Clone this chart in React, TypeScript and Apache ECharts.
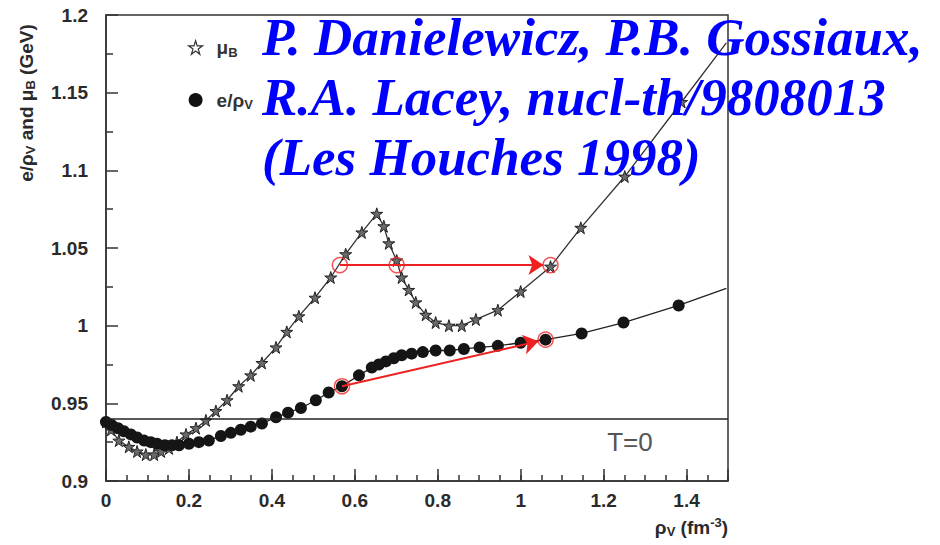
import React, { useEffect, useRef } from 'react';
import * as echarts from 'echarts';

// ---- data ----
const muRho = [0, 0.012, 0.031, 0.055, 0.075, 0.096, 0.116, 0.133, 0.152, 0.171, 0.193, 0.217, 0.241, 0.265, 0.292, 0.320, 0.349, 0.376, 0.410, 0.436, 0.465, 0.504, 0.542, 0.578, 0.617, 0.653, 0.670, 0.682, 0.701, 0.713, 0.730, 0.747, 0.771, 0.795, 0.827, 0.858, 0.892, 0.945, 1.000, 1.072, 1.145, 1.251, 1.388];
const muVal = [0.938, 0.933, 0.926, 0.922, 0.919, 0.917, 0.917, 0.919, 0.921, 0.925, 0.930, 0.934, 0.939, 0.945, 0.952, 0.961, 0.968, 0.976, 0.986, 0.996, 1.006, 1.018, 1.031, 1.046, 1.060, 1.072, 1.064, 1.053, 1.042, 1.031, 1.023, 1.015, 1.007, 1.002, 1.000, 1.000, 1.004, 1.010, 1.022, 1.038, 1.063, 1.096, 1.144];
const muCurveEnd = [1.496, 1.182];

const eRho = [0, 0.014, 0.029, 0.043, 0.060, 0.075, 0.092, 0.108, 0.123, 0.142, 0.159, 0.176, 0.200, 0.224, 0.248, 0.277, 0.301, 0.325, 0.349, 0.376, 0.410, 0.439, 0.470, 0.506, 0.537, 0.569, 0.610, 0.641, 0.658, 0.675, 0.694, 0.713, 0.737, 0.764, 0.795, 0.829, 0.863, 0.901, 0.945, 1.000, 1.060, 1.147, 1.248, 1.381];
const eVal = [0.938, 0.936, 0.934, 0.932, 0.930, 0.928, 0.926, 0.925, 0.924, 0.923, 0.923, 0.923, 0.924, 0.925, 0.926, 0.929, 0.931, 0.933, 0.935, 0.937, 0.941, 0.944, 0.947, 0.952, 0.957, 0.961, 0.968, 0.973, 0.975, 0.977, 0.979, 0.981, 0.982, 0.983, 0.984, 0.984, 0.985, 0.986, 0.987, 0.989, 0.991, 0.995, 1.002, 1.013];
const eCurveEnd = [1.496, 1.024];

const nucleonMass = 0.938;
const arrowMu = [[0.564, 1.039], [1.055, 1.039]];
const arrowE = [[0.569, 0.961], [1.043, 0.990]];
const redRings = [[0.564, 1.039], [0.701, 1.039], [1.072, 1.039], [0.569, 0.961], [1.060, 0.991]];

const titleLines = ['P. Danielewicz, P.B. Gossiaux,', 'R.A. Lacey, nucl-th/9808013', '(Les Houches 1998)'];

const STAR = 'path://M50,2 L61,37 L98,37 L68,59 L79,95 L50,73 L21,95 L32,59 L2,37 L39,37 Z';

export default function App() {
  const ref = useRef<HTMLDivElement>(null);
  useEffect(() => {
    const chart = echarts.init(ref.current!, null, { renderer: 'svg' });
    const muData: any[] = muRho.map((x, i) => [x, muVal[i]]);
    muData.push({ value: muCurveEnd, symbol: 'none' });
    const eData: any[] = eRho.map((x, i) => [x, eVal[i]]);
    eData.push({ value: eCurveEnd, symbol: 'none' });
    const sans = 'Liberation Sans, Arial, sans-serif';
    const serif = 'Liberation Serif, Times New Roman, serif';
    const tickFmt = (v: number) => {
      const k = v * 5;
      if (Math.abs(k - Math.round(k)) > 1e-6) return '';
      return String(Number(v.toFixed(2)));
    };
    const ink = '#2a2a2a';
    chart.setOption({
      animation: false,
      grid: { left: 106, right: 212, top: 15, bottom: 64, show: true, borderColor: '#333', borderWidth: 1.5 },
      legend: {
        orient: 'vertical', left: 183, top: 33, itemWidth: 14, itemHeight: 14, itemGap: 32,
        data: [
          { name: 'μB', icon: STAR, itemStyle: { color: '#fff', borderColor: '#333', borderWidth: 1.2 } },
          { name: 'e/ρV', icon: 'circle', itemStyle: { color: '#111' } },
        ],
        formatter: (n: string) => (n === 'μB' ? '{g|}{n|μ}{s|B}' : '{g|}{n|e/ρ}{s|V}'),
        textStyle: {
          rich: {
            g: { width: 9 },
            n: { fontFamily: sans, fontSize: 19, fontWeight: 'bold', color: '#333' },
            s: { fontFamily: sans, fontSize: 13, fontWeight: 'bold', color: '#333', padding: [9, 0, 0, 0] },
          },
        },
      },
      xAxis: [
        {
          type: 'value', min: 0, max: 1.5, interval: 0.2,
          axisLine: { lineStyle: { color: '#333', width: 1.5 } },
          axisTick: { inside: true, length: 12, lineStyle: { color: '#333', width: 1.5 } },
          axisLabel: { formatter: tickFmt, margin: 10, fontFamily: sans, fontWeight: 'bold', fontSize: 19, color: ink },
          splitLine: { show: false },
        },
        {
          type: 'value', min: 0, max: 1.5, interval: 0.05, position: 'bottom',
          axisLine: { show: false },
          axisTick: { inside: true, length: 6, lineStyle: { color: '#333', width: 1.5 } },
          axisLabel: { show: false },
          splitLine: { show: false },
        },
      ],
      yAxis: {
        type: 'value', min: 0.9, max: 1.2, interval: 0.05,
        axisLine: { show: true, lineStyle: { color: '#333', width: 1.5 } },
        axisTick: { show: true, inside: true, length: 12, lineStyle: { color: '#333', width: 1.5 } },
        minorTick: { show: true, splitNumber: 2, length: 7, lineStyle: { color: '#333', width: 1.5 } },
        axisLabel: { margin: 18, fontFamily: sans, fontWeight: 'bold', fontSize: 19, color: ink },
        splitLine: { show: false },
      },
      series: [
        {
          name: 'μB', type: 'line', data: muData, symbol: STAR, symbolSize: 12,
          lineStyle: { color: '#333', width: 1.3 },
          itemStyle: { color: '#6a6a6a', borderColor: '#222', borderWidth: 1 },
          z: 3,
        },
        {
          name: 'e/ρV', type: 'line', data: eData, symbol: 'circle', symbolSize: 12,
          lineStyle: { color: '#222', width: 1.3 },
          itemStyle: { color: '#151515' },
          z: 4,
          markLine: {
            silent: true, symbol: ['none', 'none'], label: { show: false },
            lineStyle: { color: '#222', width: 1.5, type: 'solid' },
            data: [{ yAxis: nucleonMass }],
          },
        },
        {
          name: 'arrows', type: 'line', data: [], z: 6,
          markLine: {
            silent: true, symbol: ['none', 'arrow'], symbolSize: 15, label: { show: false },
            lineStyle: { color: '#ee2020', width: 2, type: 'solid' },
            data: [
              [{ coord: arrowMu[0] }, { coord: arrowMu[1] }],
              [{ coord: arrowE[0] }, { coord: arrowE[1] }],
            ],
          },
        },
        {
          name: 'rings', type: 'scatter', data: redRings, symbol: 'circle', symbolSize: 15, z: 7,
          itemStyle: { color: 'rgba(0,0,0,0)', borderColor: '#f02828', borderWidth: 1.5 },
        },
      ],
      graphic: [
        ...titleLines.map((t, i) => ({
          type: 'text', left: 262, top: 10 + i * 60, z: 100,
          style: { text: t, fontFamily: serif, fontSize: 53, fontWeight: 'bold', fontStyle: 'italic', fill: '#0000ff' },
        })),
        {
          type: 'text', x: 630, y: 442, z: 50,
          style: { text: 'T=0', fontFamily: sans, fontSize: 26, fill: '#555', align: 'center', verticalAlign: 'middle' },
        },
        {
          type: 'text', x: 26, y: 103, rotation: Math.PI / 2, z: 50,
          style: {
            text: '{n|e/ρ}{s|V}{n| and μ}{s|B}{n| (GeV)}', align: 'center', verticalAlign: 'middle',
            rich: {
              n: { fontFamily: sans, fontSize: 19, fontWeight: 'bold', fill: ink, color: ink },
              s: { fontFamily: sans, fontSize: 13, fontWeight: 'bold', fill: ink, color: ink, padding: [9, 0, 0, 0] },
            },
          },
        },
        {
          type: 'text', x: 728, y: 527, z: 50,
          style: {
            text: '{n|ρ}{s|V}{n| (fm}{p|-3}{n|)}', align: 'right', verticalAlign: 'middle',
            rich: {
              n: { fontFamily: sans, fontSize: 19, fontWeight: 'bold', fill: ink, color: ink },
              s: { fontFamily: sans, fontSize: 13, fontWeight: 'bold', fill: ink, color: ink, padding: [9, 0, 0, 0] },
              p: { fontFamily: sans, fontSize: 13, fontWeight: 'bold', fill: ink, color: ink, padding: [0, 0, 10, 0] },
            },
          },
        },
      ],
    });
    return () => chart.dispose();
  }, []);
  return <div ref={ref} style={{ position: 'fixed', left: 0, top: 0, width: 940, height: 545, background: '#fff' }} />;
}
